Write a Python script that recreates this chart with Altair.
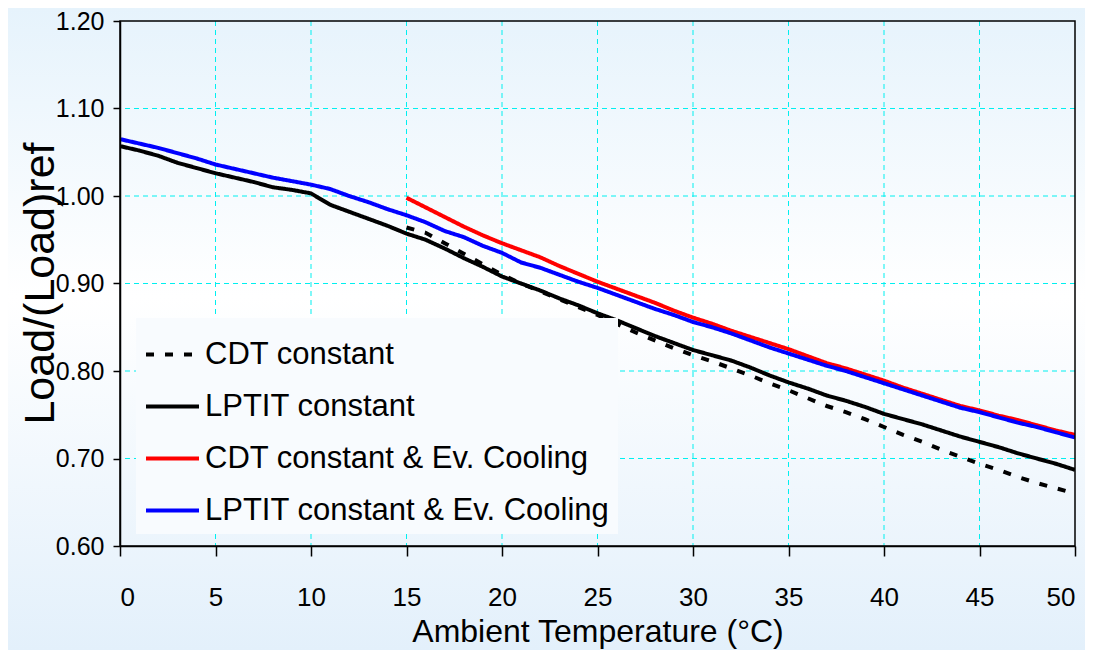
import altair as alt
import pandas as pd

series_names = ["CDT constant", "LPTIT constant", "CDT constant & Ev. Cooling", "LPTIT constant & Ev. Cooling"]
series_colors = ["#000000", "#000000", "#ff0000", "#0000ff"]

temp_all = list(range(0, 51))
temp_15 = list(range(15, 51))

lptit = [1.057, 1.052, 1.046, 1.038, 1.032, 1.026, 1.021, 1.016, 1.010, 1.007,
         1.003, 0.990, 0.982, 0.974, 0.966, 0.957, 0.950, 0.940, 0.929, 0.919,
         0.908, 0.900, 0.892, 0.883, 0.875, 0.866, 0.858, 0.849, 0.840, 0.832,
         0.824, 0.818, 0.812, 0.804, 0.795, 0.787, 0.780, 0.772, 0.766, 0.759,
         0.751, 0.745, 0.739, 0.732, 0.725, 0.719, 0.713, 0.706, 0.700, 0.694,
         0.687]

cdt = [0.964, 0.958, 0.946, 0.934, 0.922, 0.910, 0.900, 0.891, 0.882, 0.873,
       0.864, 0.854, 0.844, 0.835, 0.826, 0.818, 0.811, 0.803, 0.795, 0.786,
       0.778, 0.769, 0.760, 0.753, 0.745, 0.736, 0.727, 0.719, 0.710, 0.702,
       0.694, 0.687, 0.679, 0.672, 0.666, 0.660]

cdt_ev = [0.998, 0.987, 0.976, 0.965, 0.955, 0.946, 0.938, 0.930, 0.920, 0.911,
          0.902, 0.894, 0.886, 0.878, 0.869, 0.861, 0.854, 0.846, 0.839, 0.832,
          0.825, 0.817, 0.809, 0.803, 0.796, 0.789, 0.781, 0.774, 0.767, 0.760,
          0.755, 0.749, 0.744, 0.738, 0.732, 0.727]

lptit_ev = [1.065, 1.060, 1.055, 1.049, 1.043, 1.036, 1.031, 1.026, 1.021, 1.017,
            1.013, 1.008, 1.000, 0.993, 0.985, 0.978, 0.970, 0.960, 0.953, 0.943,
            0.935, 0.924, 0.918, 0.910, 0.902, 0.895, 0.887, 0.879, 0.871, 0.864,
            0.856, 0.850, 0.843, 0.835, 0.827, 0.820, 0.813, 0.806, 0.800, 0.793,
            0.786, 0.779, 0.772, 0.765, 0.758, 0.753, 0.747, 0.741, 0.736, 0.730,
            0.724]

x_ticks = list(range(0, 51, 5))
y_ticks = [0.6, 0.7, 0.8, 0.9, 1.0, 1.1, 1.2]

rows = []
for name, xs, ys in [(series_names[0], temp_15, cdt),
                     (series_names[1], temp_all, lptit),
                     (series_names[2], temp_15, cdt_ev),
                     (series_names[3], temp_all, lptit_ev)]:
    for x, y in zip(xs, ys):
        rows.append({"series": name, "temp": x, "load": y,
                     "order": series_names.index(name)})
df = pd.DataFrame(rows)

FONT = "Liberation Sans, Arial, sans-serif"

W, H = 955, 525
PL, PT, PR, PB = 112, 13, 10, 104

gradient = {
    "gradient": "linear", "x1": 0, "y1": 0, "x2": 0, "y2": 1,
    "stops": [
        {"offset": 0.0, "color": "#e6f3fc"},
        {"offset": 0.45, "color": "#ffffff"},
        {"offset": 1.0, "color": "#e3f0fb"},
    ],
}

x_scale = alt.Scale(domain=[0, 50], nice=False, zero=False)
y_scale = alt.Scale(domain=[0.6, 1.2], nice=False, zero=False)

# decorative page background (gradient)
bg = alt.Chart(pd.DataFrame({"k": [0]})).mark_rect(fill=gradient).encode(
    x=alt.value(-PL), x2=alt.value(W + PR), y=alt.value(-PT), y2=alt.value(H + PB)
)

# grid lines from the tick arrays
vgrid = alt.Chart(pd.DataFrame({"temp": x_ticks[1:-1]})).mark_rule(
    color="#00f0f0", strokeDash=[5, 4], strokeWidth=1
).encode(x=alt.X("temp:Q", scale=x_scale))
hgrid = alt.Chart(pd.DataFrame({"load": y_ticks[1:-1]})).mark_rule(
    color="#00f0f0", strokeDash=[5, 4], strokeWidth=1
).encode(y=alt.Y("load:Q", scale=y_scale))

legend_kw = dict(title=None, orient="none", legendX=16, legendY=297,
                 fillColor="#f8fbfe", padding=8,
                 symbolType="stroke", symbolSize=2809,
                 symbolStrokeWidth=4, labelFont=FONT,
                 labelFontSize=31, labelColor="black",
                 labelOffset=4, rowPadding=8, labelLimit=600)

lines = alt.Chart(df).mark_line(strokeWidth=4, clip=True).encode(
    x=alt.X("temp:Q", scale=x_scale,
            axis=alt.Axis(values=x_ticks, title="Ambient Temperature (°C)",
                          grid=False, zindex=1,
                          tickSize=10, labelPadding=41, labelBaseline="middle",
                          labelFontSize=26, labelFont=FONT,
                          titleFont=FONT, titleFontSize=32,
                          titleFontWeight="normal", titleBaseline="alphabetic",
                          titleY=95)),
    y=alt.Y("load:Q", scale=y_scale,
            axis=alt.Axis(values=y_ticks, format=".2f", title="Load/(Load)ref",
                          grid=False, zindex=1,
                          tickSize=7, labelPadding=9, labelFontSize=25,
                          labelFont=FONT, titleFont=FONT, titleFontSize=43,
                          titleFontWeight="normal", titleBaseline="alphabetic",
                          titleAngle=270, titleX=-67, titleY=262, titleAlign="center")),
    color=alt.Color("series:N",
                    scale=alt.Scale(domain=series_names, range=series_colors),
                    legend=alt.Legend(**legend_kw)),
    strokeDash=alt.StrokeDash("series:N",
                              scale=alt.Scale(domain=series_names,
                                              range=[[8, 11], [1, 0], [1, 0], [1, 0]]),
                              legend=alt.Legend(**legend_kw)),
    order=alt.Order("order:Q"),
    detail="series:N",
)

# decorative plot frame
frame = alt.Chart(pd.DataFrame({"k": [0]})).mark_rect(
    fill=None, stroke="black", strokeWidth=1.5
).encode(x=alt.value(0), x2=alt.value(W), y=alt.value(0), y2=alt.value(H))

chart = alt.layer(bg, vgrid, hgrid, lines, frame).properties(
    width=W, height=H,
    autosize=alt.AutoSizeParams(type="none"),
    padding={"left": PL, "top": PT, "right": PR, "bottom": PB},
    background="white",
).configure_view(
    stroke=None, fill=None
).configure_axis(
    domainColor="black", domainWidth=1.5, tickColor="black", tickWidth=1.5,
    labelColor="black", titleColor="black",
)

chart.save("out.html", embed_options={"renderer": "svg", "actions": False})
